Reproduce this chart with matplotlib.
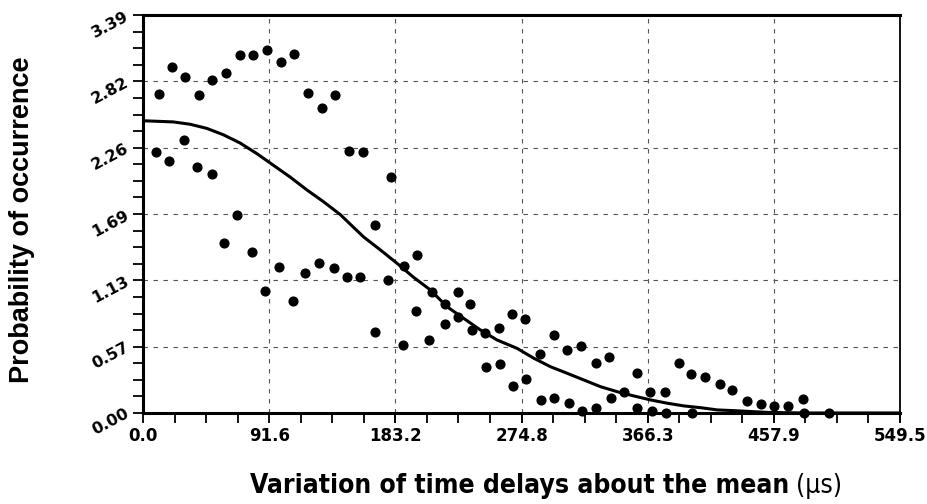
import matplotlib.pyplot as plt
import numpy as np
from matplotlib.ticker import AutoMinorLocator

# scattered measurements (time delay variation, probability)
pts_x = [11.6, 9.4, 20.8, 18.9, 30.8, 29.8, 40.7, 39.2, 50.4, 50.0,
         60.3, 58.9, 68.5, 70.7, 79.7, 79.2, 89.9, 88.2, 100.3, 98.4,
         109.5, 108.5, 119.9, 117.7, 129.9, 127.9, 139.3, 138.3, 149.7, 148.0,
         159.9, 157.7, 168.6, 168.6, 180.2, 177.8, 189.7, 188.7, 198.9, 198.4,
         207.8, 209.8, 219.0, 219.0, 228.4, 228.4, 237.6, 238.9, 248.5, 249.0,
         258.2, 258.9, 267.9, 268.4, 277.6, 278.3, 288.5, 289.0, 298.2, 298.2,
         307.4, 309.1, 317.6, 318.8, 328.5, 328.5, 338.2, 339.4, 349.1, 358.8,
         358.8, 368.0, 369.7, 378.9, 379.4, 389.0, 398.0, 398.7, 407.9, 418.6,
         427.8, 438.2, 448.4, 458.1, 468.3, 479.2, 479.9, 498.0]
pts_y = [2.715, 2.22, 2.95, 2.15, 2.86, 2.33, 2.71, 2.10, 2.84, 2.04,
         2.90, 1.445, 1.69, 3.05, 3.05, 1.374, 3.09, 1.037, 2.99, 1.241,
         3.06, 0.954, 2.73, 1.193, 2.60, 1.28, 2.71, 1.238, 2.23, 1.161,
         2.22, 1.161, 1.60, 0.687, 2.01, 1.133, 1.255, 0.577, 1.346, 0.869,
         0.62, 1.033, 0.926, 0.758, 1.031, 0.82, 0.926, 0.707, 0.684, 0.394,
         0.727, 0.415, 0.843, 0.23, 0.80, 0.292, 0.50, 0.111, 0.662, 0.13,
         0.537, 0.083, 0.571, 0.02, 0.428, 0.04, 0.474, 0.13, 0.179, 0.338,
         0.04, 0.179, 0.017, 0.179, 0.0, 0.428, 0.335, 0.0, 0.307, 0.244,
         0.199, 0.102, 0.077, 0.057, 0.057, 0.119, 0.0, 0.0]

# fitted curve
fit_x = [0, 21.9, 34.2, 46.3, 58.4, 70.5, 82.6, 94.7, 106.8, 119, 131, 143.2,
         160.1, 172.2, 184.4, 196.4, 208.6, 220.7, 232.8, 244.9, 257, 271.6,
         283.7, 295.8, 307.9, 320, 332.1, 344.3, 356.3, 368.5, 380.6, 392.7,
         404.8, 416.9, 428.8, 453, 480, 549.5]
fit_y = [2.49, 2.48, 2.46, 2.425, 2.37, 2.30, 2.21, 2.11, 2.01, 1.90, 1.80, 1.69,
         1.50, 1.39, 1.275, 1.156, 1.048, 0.905, 0.806, 0.707, 0.622, 0.55,
         0.466, 0.394, 0.338, 0.281, 0.224, 0.181, 0.145, 0.111, 0.083, 0.06,
         0.045, 0.026, 0.02, 0.005, 0.0, 0.0]

xticks = [0.0, 91.58, 183.17, 274.75, 366.33, 457.92, 549.5]
xlabels = ["0.0", "91.6", "183.2", "274.8", "366.3", "457.9", "549.5"]
yticks = [0.0, 0.565, 1.13, 1.695, 2.26, 2.825, 3.39]
ylabels = ["0.00", "0.57", "1.13", "1.69", "2.26", "2.82", "3.39"]

plt.rcParams["font.family"] = ["Liberation Sans", "DejaVu Sans"]

fig = plt.figure(figsize = (9.27, 5.04), dpi = 100)
ax = fig.add_axes([0.1543, 0.1806, 0.8166, 0.7894])

ax.plot(fit_x, fit_y, color = "k", lw = 2.2, zorder = 3)
ax.plot(pts_x, pts_y, "o", color = "k", ms = 6.3, zorder = 4, clip_on = False)

ax.set_xlim(0, 549.5)
ax.set_ylim(0, 3.39)
ax.set_xticks(xticks)
ax.set_xticklabels(xlabels, fontsize = 12, fontweight = "bold", family = "DejaVu Sans")
ax.set_yticks(yticks)
ax.set_yticklabels(ylabels, fontsize = 11.5, fontweight = "bold", family = "DejaVu Sans", rotation = 28, ha = "right", va = "center", rotation_mode = "anchor")
ax.xaxis.set_minor_locator(AutoMinorLocator(4))
ax.yaxis.set_minor_locator(AutoMinorLocator(4))
ax.tick_params(which = "both", direction = "out", length = 7, width = 1.3, color = "k")
ax.tick_params(axis = "x", pad = 3)
ax.tick_params(axis = "y", pad = 4)

ax.grid(True, which = "major", color = "#555555", lw = 0.8, ls = (0, (4, 5)))
ax.set_axisbelow(True)

for s in ["left", "bottom", "top"]:
	ax.spines[s].set_linewidth(2.2)
ax.spines["right"].set_linewidth(1.3)

fig.text(0.024, 0.563, "Probability of occurrence", rotation = 90, ha = "center", va = "center", fontsize = 19.5, fontweight = "bold")

# x label: bold main part, then a lighter unit
t1 = fig.text(0.27, 0.036, "Variation of time delays about the mean", ha = "left", va = "center", fontsize = 19, fontweight = "bold", family = "DejaVu Sans", fontstretch = "condensed")
fig.canvas.draw()
bb = t1.get_window_extent().transformed(fig.transFigure.inverted())
fig.text(bb.x1 + 0.007, 0.036, "(μs)", ha = "left", va = "center", fontsize = 19, family = "DejaVu Sans", fontstretch = "condensed")

fig.savefig("out.png", dpi = 100)
